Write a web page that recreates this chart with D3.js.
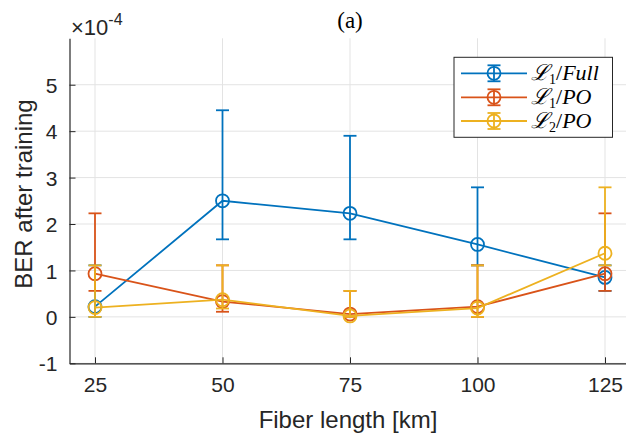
<!DOCTYPE html>
<html><head><meta charset="utf-8">
<script src="https://cdn.jsdelivr.net/npm/d3@7"></script>
<style>body{margin:0;background:#fff}svg{display:block}</style>
</head><body><svg id="c" width="626" height="437"></svg>
<script>
const lengths = [25, 50, 75, 100, 125];
const xTicks = [25, 50, 75, 100, 125];
const yTicks = [-1, 0, 1, 2, 3, 4, 5];
const seriesNames = ["Full", "PO", "PO"];
const seriesSub = ["1", "1", "2"];
const fullMean = [0.22, 2.50, 2.23, 1.56, 0.85];
const fullLo   = [0.00, 1.67, 1.67, 1.11, 0.56];
const fullHi   = [1.11, 4.45, 3.90, 2.79, 1.11];
const po1Mean  = [0.93, 0.33, 0.06, 0.22, 0.93];
const po1Lo    = [0.56, 0.11, 0.00, 0.00, 0.56];
const po1Hi    = [2.23, 1.11, 0.56, 1.11, 2.23];
const po2Mean  = [0.20, 0.37, 0.02, 0.19, 1.37];
const po2Lo    = [0.00, 0.18, 0.00, 0.00, 1.11];
const po2Hi    = [1.11, 1.11, 0.56, 1.11, 2.79];
const colors = ["#0072BD", "#D95319", "#EDB120"];

const series = [
  {mean: fullMean, lo: fullLo, hi: fullHi},
  {mean: po1Mean, lo: po1Lo, hi: po1Hi},
  {mean: po2Mean, lo: po2Lo, hi: po2Hi}
];

const svg = d3.select("#c");
const L = 69.5, T = 38.3, B = 363.3;
const x = d3.scaleLinear().domain([20, 130]).range([L, L + 561]);
const y = d3.scaleLinear().domain([-1, 6]).range([B, T]);
const txt = "#262626";
const sans = "'Liberation Sans', Arial, Helvetica, sans-serif";
const serif = "'Liberation Serif', 'DejaVu Serif', serif";

// grid
const g = svg.append("g");
g.selectAll(".gx").data(xTicks).join("line")
  .attr("x1", d => x(d)).attr("x2", d => x(d)).attr("y1", T).attr("y2", B)
  .attr("stroke", "#e3e3e3").attr("stroke-width", 1);
g.selectAll(".gy").data(yTicks).join("line")
  .attr("x1", L).attr("x2", 626).attr("y1", d => y(d)).attr("y2", d => y(d))
  .attr("stroke", "#e3e3e3").attr("stroke-width", 1);

// axes
const fmt = d => String(d);
const xAxis = d3.axisBottom(x).tickValues(xTicks).tickFormat(fmt).tickSizeInner(-6).tickSizeOuter(0).tickPadding(14);
const yAxis = d3.axisLeft(y).tickValues(yTicks).tickFormat(fmt).tickSizeInner(-6).tickSizeOuter(0).tickPadding(12);
const gx = svg.append("g").attr("transform", `translate(0,${B})`).call(xAxis);
const gy = svg.append("g").attr("transform", `translate(${L},0)`).call(yAxis);
[gx, gy].forEach(a => {
  a.select(".domain").attr("stroke", txt).attr("stroke-width", 1.2);
  a.selectAll(".tick line").attr("stroke", txt).attr("stroke-width", 1);
  a.selectAll(".tick text").attr("fill", txt).attr("font-family", sans).attr("font-size", 21);
});
gx.selectAll(".tick text").attr("dy", "0.71em");
gy.selectAll(".tick text").attr("dy", "0.36em");

// series
const cap = 6.5, r = 6.5;
series.forEach((s, i) => {
  const c = colors[i];
  const sg = svg.append("g");
  const pts = lengths.map((l, j) => ({l, m: s.mean[j], lo: s.lo[j], hi: s.hi[j]}));
  sg.append("path").datum(pts)
    .attr("d", d3.line().x(d => x(d.l)).y(d => y(d.m)))
    .attr("fill", "none").attr("stroke", c).attr("stroke-width", 1.8);
  sg.selectAll(".eb").data(pts).join("line")
    .attr("x1", d => x(d.l)).attr("x2", d => x(d.l))
    .attr("y1", d => y(d.lo)).attr("y2", d => y(d.hi))
    .attr("stroke", c).attr("stroke-width", 1.8);
  ["lo", "hi"].forEach(k => {
    sg.selectAll(".cap" + k).data(pts).join("line")
      .attr("x1", d => x(d.l) - cap).attr("x2", d => x(d.l) + cap)
      .attr("y1", d => y(d[k])).attr("y2", d => y(d[k]))
      .attr("stroke", c).attr("stroke-width", 1.8);
  });
  sg.selectAll("circle").data(pts).join("circle")
    .attr("cx", d => x(d.l)).attr("cy", d => y(d.m)).attr("r", r)
    .attr("fill", "none").attr("stroke", c).attr("stroke-width", 1.8);
});

// axis labels
svg.append("text").attr("x", 348).attr("y", 428).attr("text-anchor", "middle")
  .attr("font-family", sans).attr("font-size", 24).attr("fill", txt).text("Fiber length [km]");
svg.append("text").attr("transform", "translate(32,194) rotate(-90)").attr("text-anchor", "middle")
  .attr("font-family", sans).attr("font-size", 24).attr("fill", txt).text("BER after training");

// exponent
const ex = svg.append("text").attr("x", 71).attr("y", 35).attr("font-family", sans).attr("font-size", 22).attr("fill", txt);
ex.append("tspan").text("\u00D710");
ex.append("tspan").attr("dy", -10).attr("font-size", 16).text("-4");

// title
svg.append("text").attr("x", 350).attr("y", 28).attr("text-anchor", "middle")
  .attr("font-family", serif).attr("font-size", 23).attr("fill", "#000").text("(a)");

// legend
const lg = svg.append("g");
lg.append("rect").attr("x", 454).attr("y", 57.3).attr("width", 158.5).attr("height", 80)
  .attr("fill", "#fff").attr("stroke", txt).attr("stroke-width", 1);
const ly = [73.3, 97.3, 121];
colors.forEach((c, i) => {
  const yy = ly[i];
  lg.append("line").attr("x1", 461).attr("x2", 527).attr("y1", yy).attr("y2", yy).attr("stroke", c).attr("stroke-width", 1.8);
  lg.append("line").attr("x1", 494).attr("x2", 494).attr("y1", yy - 8).attr("y2", yy + 8).attr("stroke", c).attr("stroke-width", 1.8);
  [yy - 8, yy + 8].forEach(v => lg.append("line").attr("x1", 494 - cap).attr("x2", 494 + cap).attr("y1", v).attr("y2", v).attr("stroke", c).attr("stroke-width", 1.8));
  lg.append("circle").attr("cx", 494).attr("cy", yy).attr("r", r).attr("fill", "none").attr("stroke", c).attr("stroke-width", 1.8);
  const t = lg.append("text").attr("x", 531).attr("y", yy + 7).attr("font-family", serif).attr("font-size", 22).attr("fill", "#000");
  t.append("tspan").attr("font-style", "italic").text("\u2112");
  t.append("tspan").attr("dy", 4).attr("font-size", 14).text(seriesSub[i]);
  t.append("tspan").attr("dy", -4).text("/");
  t.append("tspan").attr("font-style", "italic").text(seriesNames[i]);
});
</script></body></html>
